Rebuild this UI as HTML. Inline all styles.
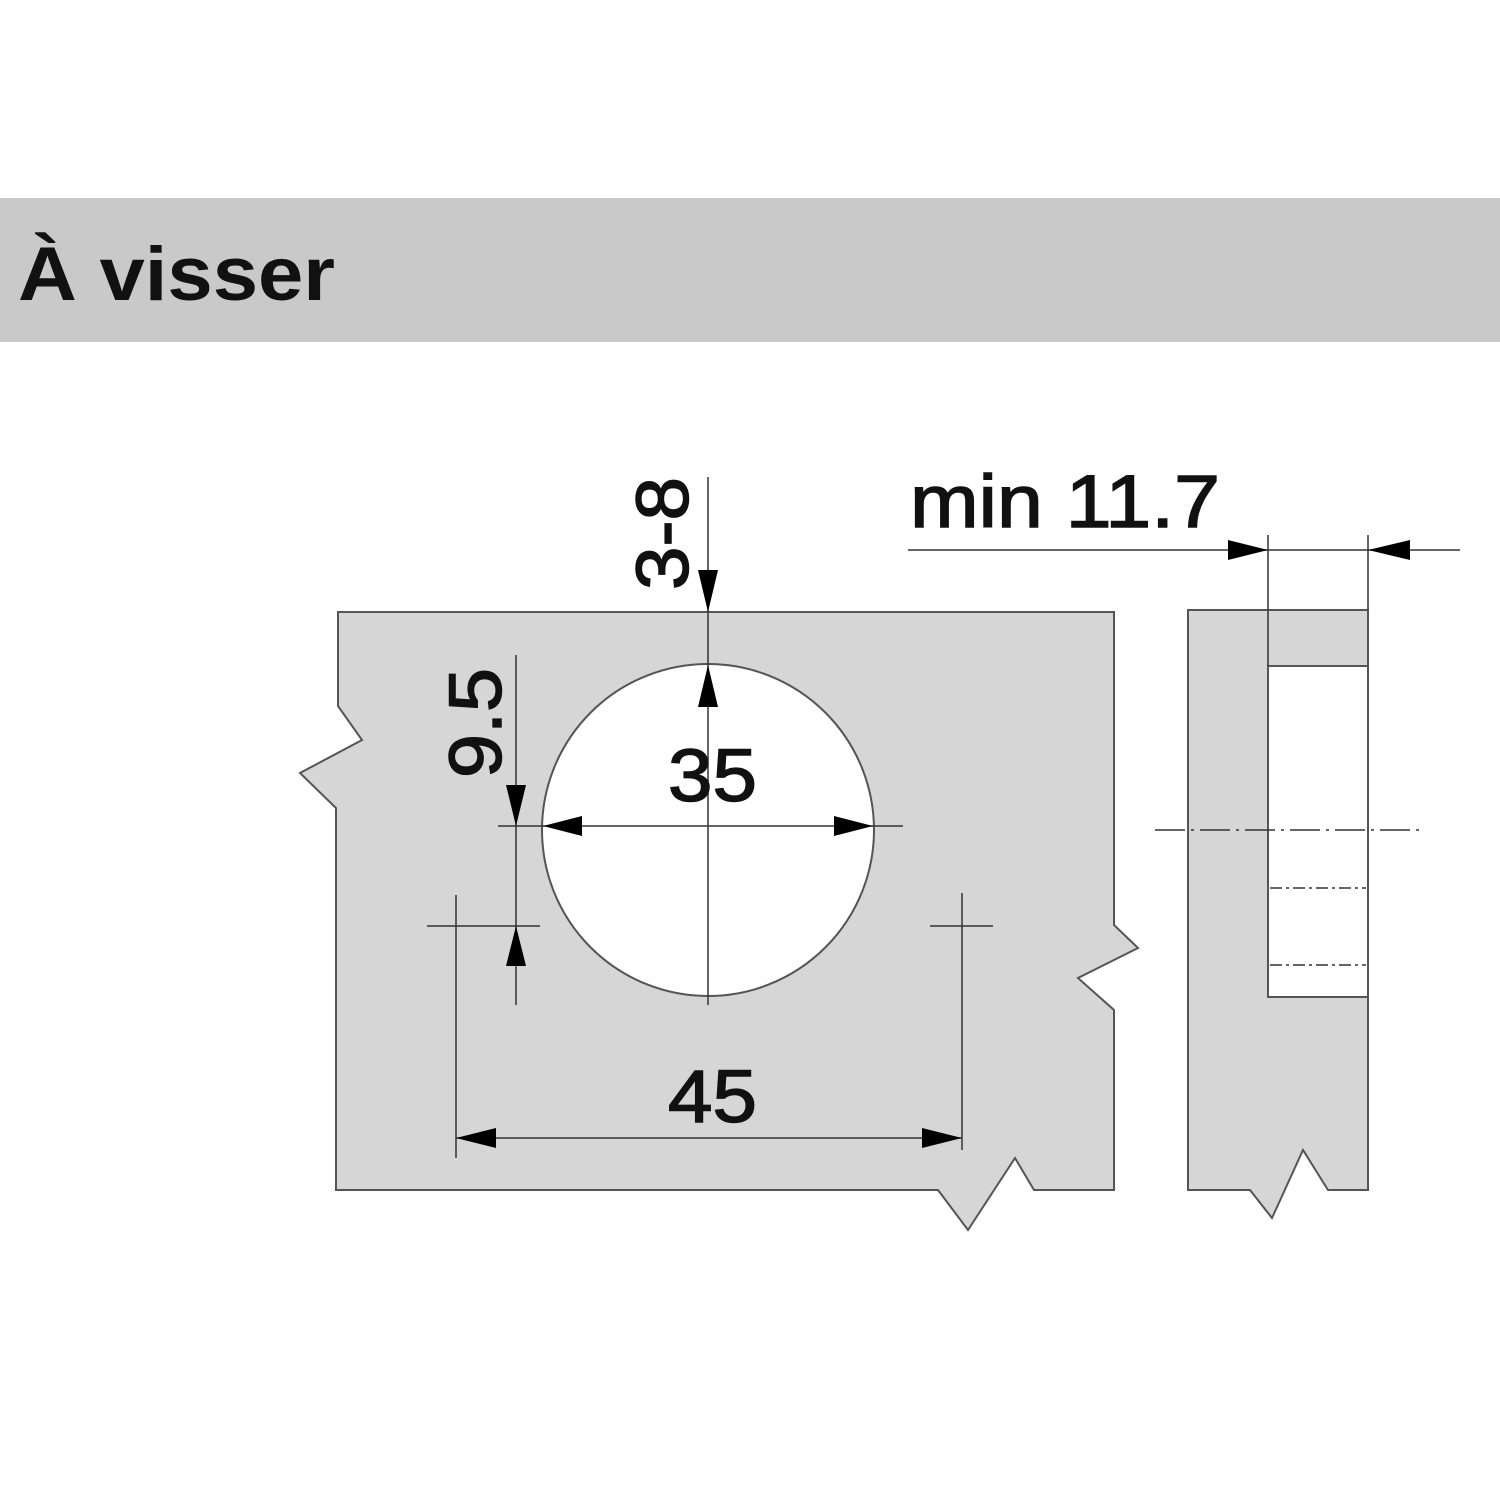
<!DOCTYPE html>
<html><head><style>
body{margin:0;background:#fff;}
svg{display:block;}
</style></head><body>
<svg width="1500" height="1500" viewBox="0 0 1500 1500" xmlns="http://www.w3.org/2000/svg">
<rect x="0" y="0" width="1500" height="1500" fill="#fff"/>
<rect x="0" y="198" width="1500" height="144" fill="#c9c9c9"/>
<text x="18" y="300" font-family="Liberation Sans, sans-serif" font-weight="bold" font-size="76" fill="#111" textLength="317" lengthAdjust="spacingAndGlyphs">À visser</text>

<g stroke="#555" stroke-width="2" fill="#d6d6d6">
<path d="M338,612 L1114,612 L1114,925 L1138,948 L1078,978 L1114,1010 L1114,1190 L1034,1190 L1015,1158 L968,1230 L938,1190 L336,1190 L336,808 L300,773 L362,740 L338,706 Z"/>
<circle cx="708" cy="830" r="166" fill="#fff"/>
<path d="M1188,610 L1368,610 L1368,1190 L1328,1190 L1303,1150 L1272,1218 L1250,1190 L1188,1190 Z"/>
<rect x="1268" y="666" width="100" height="331" fill="#fff"/>
</g>

<g stroke="#333" stroke-width="1.5" fill="none">
<line x1="708" y1="477" x2="708" y2="1005"/>
<line x1="516" y1="655" x2="516" y2="1005"/>
<line x1="498" y1="826" x2="903" y2="826"/>
<line x1="427" y1="926" x2="540" y2="926"/>
<line x1="456" y1="895" x2="456" y2="1158"/>
<line x1="930" y1="926" x2="993" y2="926"/>
<line x1="962" y1="893" x2="962" y2="1150"/>
<line x1="456" y1="1138" x2="962" y2="1138"/>
<line x1="908" y1="550" x2="1460" y2="550"/>
<line x1="1268" y1="535" x2="1268" y2="666"/>
<line x1="1368" y1="535" x2="1368" y2="610"/>
<line x1="1155" y1="830" x2="1420" y2="830" stroke-dasharray="30,6,3,6"/>
<line x1="1270" y1="888" x2="1366" y2="888" stroke-dasharray="12,4,3,4"/>
<line x1="1270" y1="965" x2="1366" y2="965" stroke-dasharray="12,4,3,4"/>
</g>

<g fill="#000">
<polygon points="708,612 698,570 718,570"/>
<polygon points="708,665 698,707 718,707"/>
<polygon points="516,826 506,785 526,785"/>
<polygon points="516,926 506,966 526,966"/>
<polygon points="543,826 582,816 582,836"/>
<polygon points="873,826 834,816 834,836"/>
<polygon points="456,1138 496,1128 496,1148"/>
<polygon points="962,1138 922,1128 922,1148"/>
<polygon points="1268,550 1228,540 1228,560"/>
<polygon points="1368,550 1410,540 1410,560"/>
</g>

<g font-family="Liberation Sans, sans-serif" font-size="74" fill="#111" stroke="#111" stroke-width="1.5">
<text x="668" y="801" textLength="89" lengthAdjust="spacingAndGlyphs">35</text>
<text x="668" y="1122" textLength="89" lengthAdjust="spacingAndGlyphs">45</text>
<text x="910" y="527" textLength="310" lengthAdjust="spacingAndGlyphs">min 11.7</text>
<text transform="translate(688,590) rotate(-90)" textLength="113" lengthAdjust="spacingAndGlyphs">3-8</text>
<text transform="translate(501,778) rotate(-90)" textLength="110" lengthAdjust="spacingAndGlyphs">9.5</text>
</g>
</svg>
</body></html>
